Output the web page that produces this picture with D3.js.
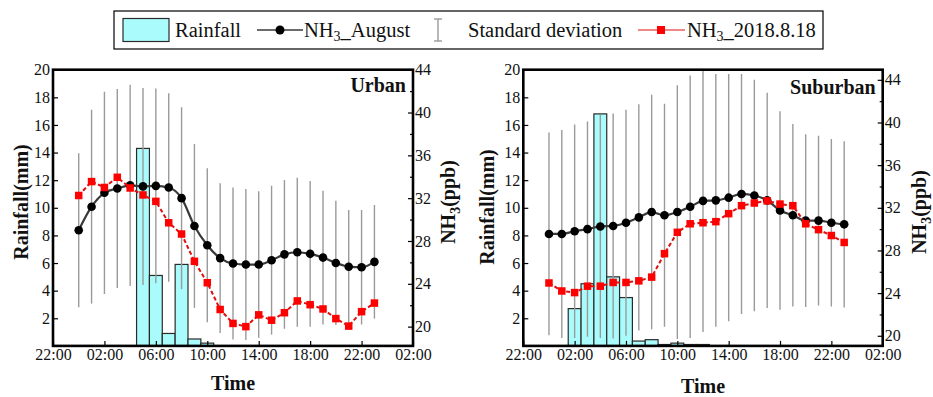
<!DOCTYPE html>
<html>
<head>
<meta charset="utf-8">
<script src="https://cdn.jsdelivr.net/npm/d3@7"></script>
<style>
  body { margin: 0; background: #fff; }
  svg { display: block; }
  text { font-family: "Liberation Serif", "Times New Roman", serif; fill: #111; }
</style>
</head>
<body>
<svg id="chart" width="933" height="397"></svg>
<script>
// Hour of day for each observation (00:00 ... 23:00)
const hours = d3.range(24);

// Hourly rainfall (mm) on 2018-08-18
const urbanRain = [0, 0, 0, 0, 0, 14.3, 5.1, 0.9, 5.9, 0.5, 0.2, 0, 0, 0, 0, 0, 0, 0, 0, 0, 0, 0, 0, 0];
const suburbanRain = [0, 0, 2.7, 4.5, 16.8, 5.0, 3.5, 0.35, 0.45, 0.1, 0.2, 0.1, 0.1, 0, 0, 0, 0, 0, 0, 0, 0, 0, 0, 0];

// Mean diurnal NH3 in August (ppb) and its standard deviation
const urbanAugust = [29.0, 31.2, 32.5, 32.9, 33.2, 33.1, 33.15, 33.0, 32.0, 29.4, 27.6, 26.4,
                     25.9, 25.8, 25.8, 26.2, 26.75, 26.95, 26.8, 26.45, 25.95, 25.6, 25.55, 26.05];
const urbanSD = [7.2, 9.05, 9.45, 9.3, 9.4, 9.2, 9.1, 8.8, 8.5, 7.65, 7.2, 7.0,
                 7.1, 7.05, 6.85, 6.95, 6.95, 6.95, 6.8, 6.25, 5.8, 5.3, 5.35, 5.3];
const suburbanAugust = [29.55, 29.55, 29.8, 30.0, 30.25, 30.3, 30.6, 31.1, 31.6, 31.3, 31.6, 32.1,
                        32.65, 32.7, 32.95, 33.3, 33.15, 32.7, 31.75, 31.3, 30.8, 30.8, 30.6, 30.45];
const suburbanSD = [9.5, 9.75, 10.0, 10.1, 10.45, 10.55, 10.6, 10.6, 11.0, 10.45, 11.9, 12.3,
                    12.3, 11.85, 11.6, 11.25, 10.85, 10.1, 9.3, 8.55, 8.1, 7.95, 7.85, 7.8];

// NH3 on the rain day 2018-08-18 (ppb)
const urban0818 = [32.25, 33.55, 33.0, 33.95, 32.95, 32.3, 31.7, 29.7, 28.65, 26.1, 24.1, 21.6,
                   20.3, 20.0, 21.1, 20.6, 21.3, 22.4, 22.05, 21.65, 20.75, 20.05, 21.4, 22.2];
const suburban0818 = [24.95, 24.2, 24.05, 24.65, 24.65, 25.0, 25.0, 25.15, 25.5, 27.7, 29.7, 30.5,
                      30.6, 30.7, 31.45, 32.2, 32.45, 32.65, 32.35, 32.2, 30.5, 29.95, 29.4, 28.75];

// Axis ticks
const timeTicks = [-2, 2, 6, 10, 14, 18, 22, 26];          // hours relative to midnight
const rainTicks = [2, 4, 6, 8, 10, 12, 14, 16, 18, 20];
const nh3Ticks = [20, 24, 28, 32, 36, 40, 44];
const nh3Minor = [22, 26, 30, 34, 38, 42];

const svg = d3.select("#chart");
const fmtTime = h => String(((h % 24) + 24) % 24).padStart(2, "0") + ":00";

const C = {
  bar: "#aafcfc", barStroke: "#2a2a2a",
  black: "#000", blackLine: "#3a3a3a",
  red: "#ff0000", redLine: "#dd1010",
  err: "#9a9a9a"
};

function drawPanel(o) {
  const x = d3.scaleLinear().domain([-2, 26]).range([o.x0, o.x1]);
  const yR = d3.scaleLinear().domain([0, 20]).range([o.yB, o.yT]);
  const yN = d3.scaleLinear().domain(o.nh3Domain).range([o.yB, o.yT]);
  const g = svg.append("g");

  const clipId = "clip-" + o.id;
  svg.append("clipPath").attr("id", clipId)
    .append("rect").attr("x", o.x0).attr("y", o.yT).attr("width", o.x1 - o.x0).attr("height", o.yB - o.yT);
  const plot = g.append("g").attr("clip-path", `url(#${clipId})`);

  // rainfall bars, one hour wide
  plot.append("g").selectAll("rect")
    .data(hours.filter(h => o.rain[h] > 0))
    .join("rect")
    .attr("x", h => x(h - 0.5))
    .attr("width", h => x(h + 0.5) - x(h - 0.5))
    .attr("y", h => yR(o.rain[h]))
    .attr("height", h => yR(0) - yR(o.rain[h]))
    .attr("fill", C.bar).attr("stroke", C.barStroke).attr("stroke-width", 1.2);

  // standard deviation bars
  plot.append("g").selectAll("line")
    .data(hours)
    .join("line")
    .attr("x1", h => x(h)).attr("x2", h => x(h))
    .attr("y1", h => yN(o.mean[h] - o.sd[h]))
    .attr("y2", h => yN(o.mean[h] + o.sd[h]))
    .attr("stroke", C.err).attr("stroke-width", 1.4);

  // August mean line with circles
  const line = d3.line().x((d, i) => x(i)).y(d => yN(d)).curve(d3.curveMonotoneX);
  plot.append("path").datum(o.mean)
    .attr("d", line).attr("fill", "none")
    .attr("stroke", C.blackLine).attr("stroke-width", 2.2);
  plot.append("g").selectAll("circle")
    .data(o.mean).join("circle")
    .attr("cx", (d, i) => x(i)).attr("cy", d => yN(d)).attr("r", 4.3)
    .attr("fill", C.black);

  // rain-day line with squares
  const line2 = d3.line().x((d, i) => x(i)).y(d => yN(d));
  plot.append("path").datum(o.day)
    .attr("d", line2).attr("fill", "none")
    .attr("stroke", C.redLine).attr("stroke-width", 2)
    .attr("stroke-dasharray", "4,2.5");
  const s = 7.5;
  plot.append("g").selectAll("rect")
    .data(o.day).join("rect")
    .attr("x", (d, i) => x(i) - s / 2).attr("y", d => yN(d) - s / 2)
    .attr("width", s).attr("height", s)
    .attr("fill", C.red);

  // axes (inward ticks)
  const ax = g.append("g").attr("transform", `translate(0,${o.yB})`)
    .call(d3.axisBottom(x).tickValues(timeTicks).tickFormat(fmtTime).tickSizeInner(-5).tickSizeOuter(0).tickPadding(3));
  const axl = g.append("g").attr("transform", `translate(${o.x0},0)`)
    .call(d3.axisLeft(yR).tickValues(rainTicks).tickSizeInner(-5).tickSizeOuter(0).tickPadding(3));
  const axr = g.append("g").attr("transform", `translate(${o.x1},0)`)
    .call(d3.axisRight(yN).tickValues(nh3Ticks).tickSizeInner(-5).tickSizeOuter(0).tickPadding(2));
  const axrm = g.append("g").attr("transform", `translate(${o.x1},0)`)
    .call(d3.axisRight(yN).tickValues(nh3Minor).tickFormat("").tickSizeInner(-3).tickSizeOuter(0));
  [ax, axl, axr, axrm].forEach(a => {
    a.select(".domain").remove();
    a.selectAll(".tick line").attr("stroke", "#000").attr("stroke-width", 1.2);
    a.selectAll(".tick text")
      .style("font-family", '"Liberation Serif", "Times New Roman", serif')
      .style("font-size", "16px").attr("fill", "#111");
  });

  // frame
  g.append("rect")
    .attr("x", o.x0).attr("y", o.yT).attr("width", o.x1 - o.x0).attr("height", o.yB - o.yT)
    .attr("fill", "none").attr("stroke", "#000").attr("stroke-width", 2.6);

  // panel name
  g.append("text").attr("x", o.x1 - 7).attr("y", o.titleY)
    .attr("text-anchor", "end").style("font-size", "20px").style("font-weight", "bold")
    .text(o.title);

  // axis titles
  g.append("text")
    .attr("transform", `translate(${o.rainLabelX},${o.rainLabelY}) rotate(-90)`)
    .attr("text-anchor", "middle").style("font-size", "20px").style("font-weight", "bold")
    .text("Rainfall(mm)");

  const nt = g.append("text")
    .attr("transform", `translate(${o.nh3LabelX},${o.nh3LabelY}) rotate(-90)`)
    .attr("text-anchor", "middle").style("font-size", "20px").style("font-weight", "bold");
  nt.append("tspan").text("NH");
  nt.append("tspan").attr("dy", 5).style("font-size", "14px").text("3");
  nt.append("tspan").attr("dy", -5).text("(ppb)");

  g.append("text").attr("x", (o.x0 + o.x1) / 2).attr("y", o.timeY)
    .attr("text-anchor", "middle").style("font-size", "20px").style("font-weight", "bold")
    .text("Time");
}

drawPanel({
  id: "urban", title: "Urban", x0: 53, x1: 413, yT: 69.7, yB: 345.9,
  nh3Domain: [18.2, 44], rain: urbanRain, mean: urbanAugust, sd: urbanSD, day: urban0818,
  titleY: 92, rainLabelX: 28, rainLabelY: 202, nh3LabelX: 455, nh3LabelY: 202, timeY: 390
});
drawPanel({
  id: "suburban", title: "Suburban", x0: 523.3, x1: 882.7, yT: 69.7, yB: 345.9,
  nh3Domain: [19.05, 44.95], rain: suburbanRain, mean: suburbanAugust, sd: suburbanSD, day: suburban0818,
  titleY: 94, rainLabelX: 494, rainLabelY: 207, nh3LabelX: 926, nh3LabelY: 212, timeY: 393
});

// legend
const lg = svg.append("g");
lg.append("rect").attr("x", 114).attr("y", 11).attr("width", 709).attr("height", 38)
  .attr("fill", "#fff").attr("stroke", "#000").attr("stroke-width", 1.2);
const ly = 30, lb = 37;
const lf = "20.5px";
lg.append("rect").attr("x", 123).attr("y", 18.5).attr("width", 46).attr("height", 23)
  .attr("fill", C.bar).attr("stroke", C.barStroke).attr("stroke-width", 1.2);
lg.append("text").attr("x", 175).attr("y", lb).style("font-size", lf).text("Rainfall");

lg.append("line").attr("x1", 257).attr("x2", 303).attr("y1", ly).attr("y2", ly)
  .attr("stroke", C.blackLine).attr("stroke-width", 1.5);
lg.append("circle").attr("cx", 280).attr("cy", ly).attr("r", 4.5).attr("fill", C.black);
const t1 = lg.append("text").attr("x", 304).attr("y", lb).style("font-size", lf);
t1.append("tspan").text("NH");
t1.append("tspan").attr("dy", 4).style("font-size", "14px").text("3");
t1.append("tspan").attr("dy", -4).text("_August");

lg.append("line").attr("x1", 438).attr("x2", 438).attr("y1", 19).attr("y2", 41)
  .attr("stroke", C.err).attr("stroke-width", 1.4);
lg.append("line").attr("x1", 434).attr("x2", 442).attr("y1", 19).attr("y2", 19)
  .attr("stroke", C.err).attr("stroke-width", 1.4);
lg.append("line").attr("x1", 434).attr("x2", 442).attr("y1", 41).attr("y2", 41)
  .attr("stroke", C.err).attr("stroke-width", 1.4);
lg.append("text").attr("x", 468).attr("y", lb).style("font-size", lf).text("Standard deviation");

lg.append("line").attr("x1", 638).attr("x2", 685).attr("y1", ly).attr("y2", ly)
  .attr("stroke", C.redLine).attr("stroke-width", 1.2);
lg.append("rect").attr("x", 657).attr("y", ly - 4).attr("width", 8).attr("height", 8).attr("fill", C.red);
const t2 = lg.append("text").attr("x", 687).attr("y", lb).style("font-size", lf);
t2.append("tspan").text("NH");
t2.append("tspan").attr("dy", 4).style("font-size", "14px").text("3");
t2.append("tspan").attr("dy", -4).text("_2018.8.18");
</script>
</body>
</html>
